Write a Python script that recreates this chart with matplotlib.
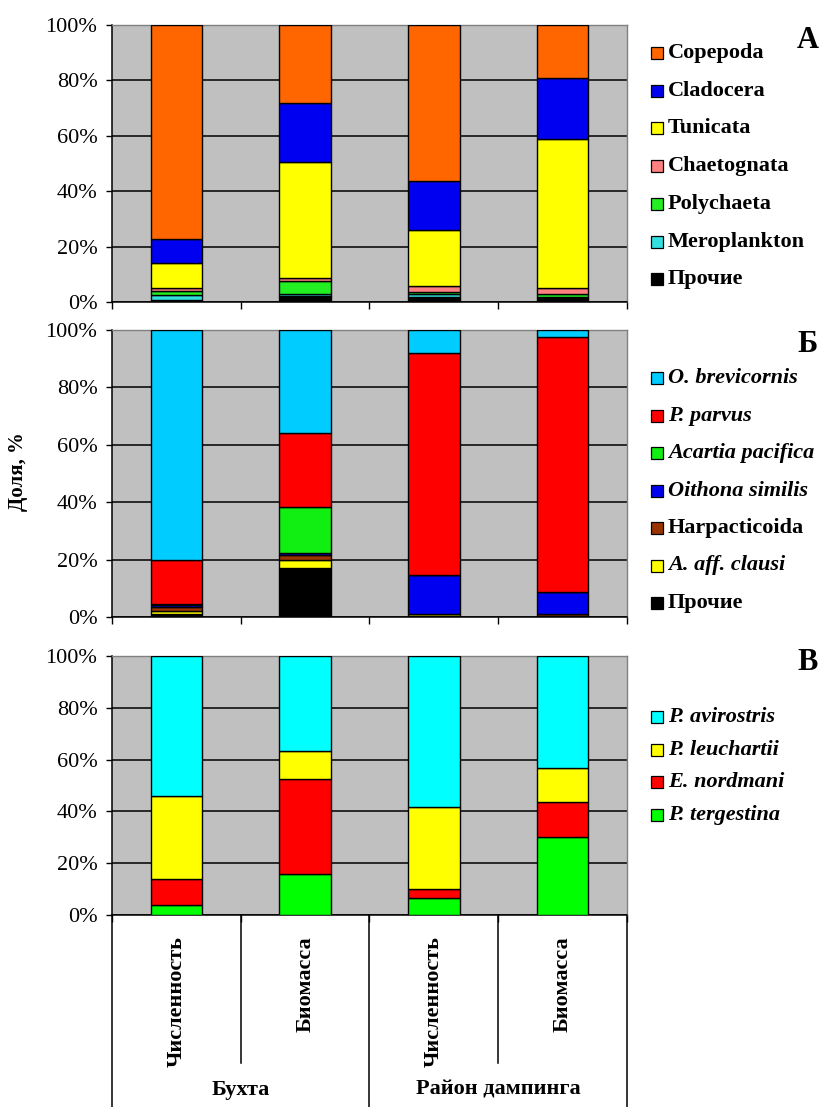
import matplotlib
matplotlib.use("Agg")
import matplotlib.pyplot as plt
from matplotlib.patches import Rectangle
from matplotlib.lines import Line2D
from matplotlib.transforms import blended_transform_factory
import numpy as np

plt.rcParams["font.family"] = ["Liberation Serif", "DejaVu Serif"]

# ---- categories ----
categories = ["Численность", "Биомасса", "Численность", "Биомасса"]
groups = ["Бухта", "Район дампинга"]
y_ticks = [0, 20, 40, 60, 80, 100]

# ---- panel А: main zooplankton groups (stacked bottom -> top), % ----
a_labels = ["Прочие", "Meroplankton", "Polychaeta", "Chaetognata",
            "Tunicata", "Cladocera", "Copepoda"]
prochie_a = [0.6, 2.2, 1.8, 1.4]
meroplankton = [1.8, 0.8, 1.2, 0.3]
polychaeta = [1.5, 4.5, 0.5, 1.3]
chaetognata = [1.0, 1.0, 2.2, 2.2]
tunicata = [9.3, 42.1, 20.4, 53.5]
cladocera = [8.6, 21.4, 17.6, 22.3]
copepoda = [77.2, 28.0, 56.3, 19.0]
a_colors = ["#000000", "#33E0E0", "#22EE22", "#FF8080",
            "#FFFF00", "#0000F0", "#FF6600"]

# ---- panel Б: Copepoda species, % ----
b_labels = ["Прочие", "A. aff. clausi", "Harpacticoida", "Oithona similis",
            "Acartia pacifica", "P. parvus", "O. brevicornis"]
b_italic = [False, True, False, True, True, True, True]
prochie_b = [0.9, 17.1, 0.2, 0.4]
a_clausi = [1.1, 2.7, 0.8, 0.1]
harpacticoida = [1.5, 1.7, 0.2, 0.6]
oithona_similis = [0.7, 0.8, 13.6, 7.5]
acartia_pacifica = [0.2, 16.1, 0.0, 0.1]
p_parvus = [15.4, 25.6, 77.1, 88.7]
o_brevicornis = [80.2, 36.0, 8.1, 2.6]
b_colors = ["#000000", "#FFFF00", "#993300", "#0000F0",
            "#11EE11", "#FF0000", "#00CCFF"]

# ---- panel В: Cladocera species, % ----
c_labels = ["P. tergestina", "E. nordmani", "P. leuchartii", "P. avirostris"]
p_tergestina = [3.7, 15.9, 6.4, 30.1]
e_nordmani = [10.3, 36.5, 3.6, 13.6]
p_leuchartii = [32.0, 11.1, 31.8, 12.9]
p_avirostris = [54.0, 36.5, 58.2, 43.4]
c_colors = ["#00FF00", "#FF0000", "#FFFF00", "#00FFFF"]

W, H = 820, 1107
fig = plt.figure(figsize=(W / 100, H / 100), dpi=100)


def frac_box(top_px, bottom_px, left_px=112, right_px=627):
    return [left_px / W, 1 - bottom_px / H, (right_px - left_px) / W,
            (bottom_px - top_px) / H]


def style_axes(ax):
    ax.set_facecolor("#C0C0C0")
    ax.set_xlim(-0.5, 3.5)
    ax.set_ylim(0, 100)
    ax.set_yticks(y_ticks)
    ax.set_yticklabels([f"{v}%" for v in y_ticks], fontsize=16)
    ax.set_xticks([-0.5, 0.5, 1.5, 2.5, 3.5])
    ax.set_xticklabels([])
    ax.tick_params(axis="y", direction="out", length=4, width=1, pad=6.5)
    ax.tick_params(axis="x", direction="out", length=5, width=1)
    ax.grid(axis="y", color="black", linewidth=1.1)
    ax.set_axisbelow(True)
    for s in ("left", "bottom"):
        ax.spines[s].set_color("black")
        ax.spines[s].set_linewidth(1.1)
    for s in ("top", "right"):
        ax.spines[s].set_color("#808080")
        ax.spines[s].set_linewidth(1.0)


def stacked(ax, series, colors):
    x = np.arange(len(categories))
    bottom = np.zeros(len(categories))
    for vals, col in zip(series, colors):
        vals = np.asarray(vals, dtype=float)
        ax.bar(x, vals, bottom=bottom, width=0.4, color=col,
               edgecolor="black", linewidth=1.0, zorder=3)
        bottom += vals


def legend(labels, colors, italics, y0, step, fs=16):
    # entries listed top -> bottom (reverse of stacking order)
    for k, (lab, col, it) in enumerate(zip(labels[::-1], colors[::-1],
                                           italics[::-1])):
        yc = y0 + k * step
        fig.patches.append(Rectangle((651 / W, 1 - (yc + 6) / H), 12 / W,
                                     12 / H, transform=fig.transFigure,
                                     facecolor=col, edgecolor="black",
                                     linewidth=0.9))
        fig.text(668 / W, 1 - yc / H, lab, fontsize=fs, fontweight="bold",
                 fontstyle="italic" if it else "normal",
                 ha="left", va="center")


# Panel А
ax_a = fig.add_axes(frac_box(25, 302))
style_axes(ax_a)
stacked(ax_a, [prochie_a, meroplankton, polychaeta, chaetognata, tunicata,
               cladocera, copepoda], a_colors)
legend(a_labels, a_colors, [False] * 7, 53, 37.7)
fig.text(808 / W, 1 - 40 / H, "А", fontsize=22, fontweight="bold",
         ha="center", va="center")

# Panel Б
ax_b = fig.add_axes(frac_box(330, 617))
style_axes(ax_b)
stacked(ax_b, [prochie_b, a_clausi, harpacticoida, oithona_similis,
               acartia_pacifica, p_parvus, o_brevicornis], b_colors)
legend(b_labels, b_colors, b_italic, 378, 37.5)
fig.text(808 / W, 1 - 345 / H, "Б", fontsize=22, fontweight="bold",
         ha="center", va="center")

# Panel В
ax_c = fig.add_axes(frac_box(656, 915))
style_axes(ax_c)
stacked(ax_c, [p_tergestina, e_nordmani, p_leuchartii, p_avirostris],
        c_colors)
legend(c_labels, c_colors, [True] * 4, 717, 32.7)
fig.text(808 / W, 1 - 662 / H, "В", fontsize=22, fontweight="bold",
         ha="center", va="center")

# common y label
fig.text(18 / W, 1 - 472 / H, "Доля, %", rotation=90, fontsize=15,
         fontweight="bold", ha="center", va="center")

# two-level category axis under the bottom panel
axis_h = 915 - 656
tr = blended_transform_factory(ax_c.transData, ax_c.transAxes)
full = -(1107 - 915) / axis_h
inner = -(1063 - 915) / axis_h
for xb, y_end in [(-0.5, full), (0.5, inner), (1.5, full), (2.5, inner),
                  (3.5, full)]:
    ax_c.add_line(Line2D([xb, xb], [0, y_end], transform=tr, color="black",
                         linewidth=1.1, clip_on=False))
for i, cat in enumerate(categories):
    ax_c.text(i, -(936 - 915) / axis_h, cat, transform=tr, rotation=90,
              ha="center", va="top", fontsize=16, fontweight="bold")
for g, name in enumerate(groups):
    ax_c.text(2 * g + 0.5, -(1090 - 915) / axis_h, name, transform=tr,
              ha="center", va="center", fontsize=16, fontweight="bold")

fig.savefig("out.png", dpi=100, facecolor="white")
